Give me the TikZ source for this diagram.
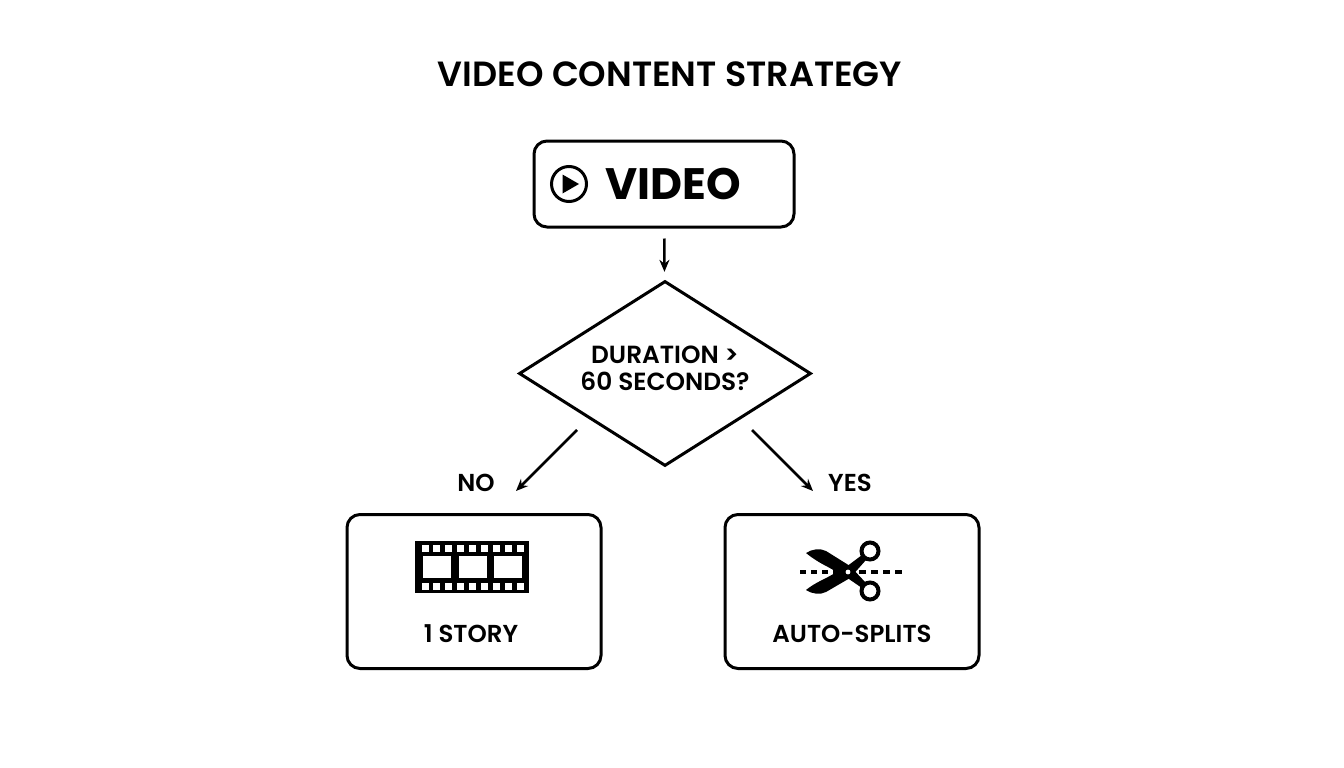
\documentclass[tikz,border=0pt]{standalone}
\usepackage{fontspec}
\setmainfont{Poppins}[BoldFont={Poppins SemiBold}]
\newfontfamily\heavyfont{Poppins Bold}
\usetikzlibrary{positioning,shapes.geometric,arrows.meta}
\tikzset{
  box/.style={draw, rounded corners=13pt, line width=3pt, minimum width=254pt, minimum height=154pt},
  decision/.style={draw, diamond, line width=3pt, aspect=1.578, minimum width=292pt, minimum height=185pt, inner sep=0pt},
  lab/.style={font=\bfseries\fontsize{24.5}{28}\selectfont},
  flow/.style={-{Stealth[length=12pt,width=10pt]}, line width=2.6pt}
}
\begin{document}
\begin{tikzpicture}[x=1pt, y=-1pt]
  \useasboundingbox (0,0) rectangle (1344,768);
  \node [font=\bfseries\fontsize{35}{40}\selectfont] (title) at (670,74) {VIDEO CONTENT STRATEGY};
  \node [box, minimum width=260pt, minimum height=86pt] (video) at (664,184) {};
  \node [font=\heavyfont\fontsize{44}{50}\selectfont] (videotxt) at (673.5,184) {VIDEO};
  \node [decision, below=0pt of video.south, yshift=-51pt, xshift=1pt] (dur) {};
  \node [lab, align=center, font=\bfseries\fontsize{24.8}{27}\selectfont, yshift=5pt] (durtxt) at (dur.center) {DURATION >\\60 SECONDS?};
  \node [box] (story) at (474,591.5) {};
  \node [box] (split) at (852,591.5) {};
  \node [lab] (storytxt) at (471,634) {1 STORY};
  \node [lab] (splittxt) at (852,634) {AUTO-SPLITS};
  \node [lab] (no) at (476,483) {NO};
  \node [lab] (yes) at (850,483) {YES};
  % free ends of the branches
  \coordinate (noa) at (577,430);
  \coordinate (nob) at (516,491);
  \coordinate (yesa) at (752,430);
  \coordinate (yesb) at (813,491);
  \draw [flow, shorten <=10pt, shorten >=8pt] (video) -- (dur);
  \draw [flow] (noa) -- (nob);
  \draw [flow] (yesa) -- (yesb);
  % play icon
  \node [draw, circle, line width=3pt, minimum size=35pt, inner sep=0pt] (play) at (569,184) {};
  \fill (562.5,174.5) -- (579,184) -- (562.5,193.5) -- cycle;
  % film strip
  \fill (415,541) rectangle (529,593);
  \foreach \i in {0,...,8} {
    \fill [white] (421.5+\i*11.9,545) rectangle ++(7,6.5);
    \fill [white] (421.5+\i*11.9,583) rectangle ++(7,6.5);
  }
  \foreach \i in {423,459,494}
    \fill [white] (\i,556) rectangle ++(28,22);
  % scissors
  \draw [line width=3.2pt, dash pattern=on 6pt off 5pt] (800,572) -- (840,572);
  \draw [line width=3.2pt, dash pattern=on 7pt off 5pt] (859,572) -- (903,572);
  \fill (806,553) .. controls (812,549) and (820,548) .. (826,551) -- (850,566) -- (866,583) -- (862,588) -- (846,577) -- (828,567) .. controls (820,563) and (812,558) .. (806,553) -- cycle;
  \fill (806,590) .. controls (812,594) and (820,595) .. (826,592) -- (850,578) -- (866,560) -- (862,555) -- (846,567) -- (828,577) .. controls (820,581) and (812,585) .. (806,590) -- cycle;
  \fill [white] (848,572) circle (2.4pt);
  \draw [line width=4pt, fill=white] (870,551) circle (8.5pt);
  \draw [line width=4pt, fill=white] (870,591) circle (8.5pt);
\end{tikzpicture}
\end{document}
